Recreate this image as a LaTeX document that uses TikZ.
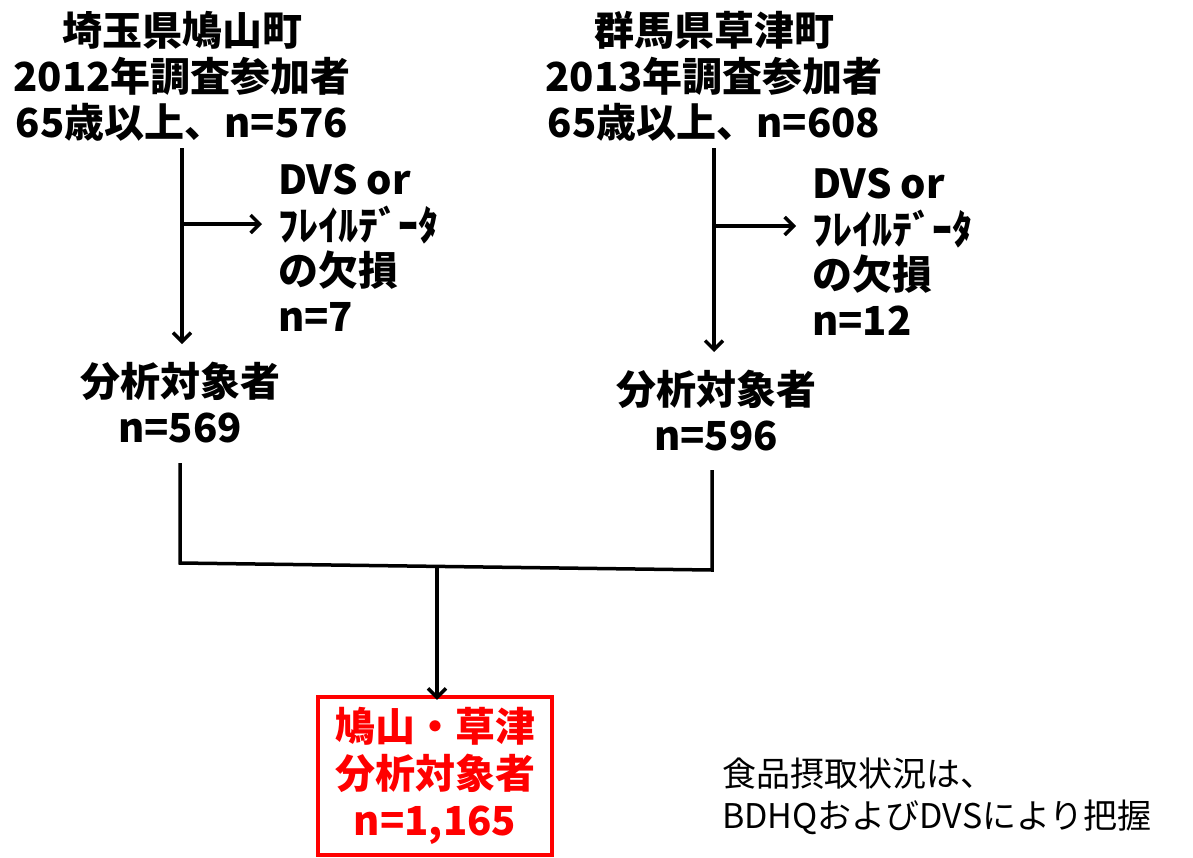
\documentclass[tikz,border=0pt]{standalone}
\usepackage{fontspec}
\setmainfont{Noto Sans CJK JP}
\usetikzlibrary{arrows.meta}
\definecolor{boxred}{RGB}{255,0,0}
\tikzset{
  big/.style={font=\fontsize{40}{46}\selectfont\bfseries, inner sep=0pt, align=center},
  bigl/.style={font=\fontsize{40}{45.5}\selectfont\bfseries, inner sep=0pt, align=left},
  conn/.style={line width=3.5pt, black},
  arr/.style={conn, -{Straight Barb[length=9pt,width=18pt,line width=3.5pt]}},
  note/.style={font=\fontsize{34}{42}\selectfont, inner sep=0pt, align=left},
  redbox/.style={draw=boxred, line width=4.5pt, text=boxred, minimum width=234pt, minimum height=158pt, inner sep=0pt, align=center, font=\fontsize{40}{47}\selectfont\bfseries}
}
\begin{document}
\begin{tikzpicture}[x=1pt,y=-1pt]
\useasboundingbox (0,0) rectangle (1193,857);
% titles
\node[big] (lt) at (182,76) {埼玉県鳩山町\\2012年調査参加者\\65歳以上、n=576};
\node[big] (rt) at (714,76) {群馬県草津町\\2013年調査参加者\\65歳以上、n=608};
% exclusions
\node[bigl, anchor=west] (lx) at (278,248) {DVS or\\ﾌﾚｲﾙﾃﾞｰﾀ\\の欠損\\n=7};
\node[bigl, anchor=west] (rx) at (812,252) {DVS or\\ﾌﾚｲﾙﾃﾞｰﾀ\\の欠損\\n=12};
% analysis
\node[big] (la) at (180,403) {分析対象者\\n=569};
\node[big] (ra) at (716,411) {分析対象者\\n=596};
% final
\node[redbox] (fin) at (435,776) {鳩山・草津\\分析対象者\\n=1,165};
% note
\node[note, anchor=west] (nt) at (722,796) {食品摂取状況は、\\BDHQおよびDVSにより把握};
% coordinates
\coordinate (lv1) at (182,148);
\coordinate (lv2) at (182,344);
\coordinate (lb) at (182,224);
\coordinate (rv1) at (714,148);
\coordinate (rv2) at (714,352);
\coordinate (rb) at (714,226);
\coordinate (l1) at (180,463);
\coordinate (l2) at (180,563);
\coordinate (r1) at (712,470);
\coordinate (r2) at (712,570);
\coordinate (m1) at (437,566);
% connectors
\draw[arr] (lv1) -- (lv2);
\draw[arr] (lb) -- ([xshift=-16pt]lx.west |- lb);
\draw[arr] (rv1) -- (rv2);
\draw[arr] (rb) -- ([xshift=-16pt]rx.west |- rb);
\draw[conn] (l1) -- (l2) -- (r2) -- (r1);
\draw[arr] (m1) -- ([yshift=-5pt]fin.north -| m1);
\end{tikzpicture}
\end{document}
